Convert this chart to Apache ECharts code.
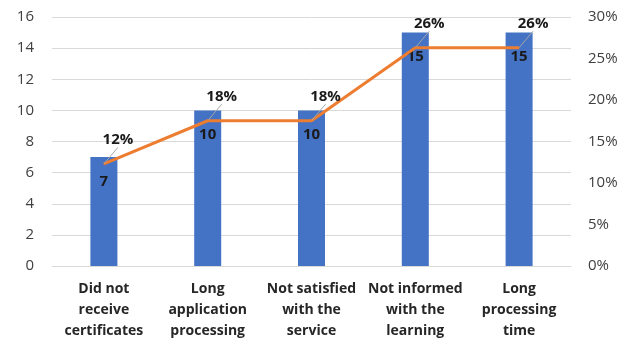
<!DOCTYPE html>
<html><head><meta charset="utf-8">
<script src="https://cdn.jsdelivr.net/npm/echarts@6/dist/echarts.min.js"></script>
<style>html,body{margin:0;padding:0;background:#fff}#c{width:635px;height:345px}</style>
</head><body><div id="c"></div>
<script>
const categories = ["Did not\nreceive\ncertificates","Long\napplication\nprocessing","Not satisfied\nwith the\nservice","Not informed\nwith the\nlearning","Long\nprocessing\ntime"];
const counts = [7, 10, 10, 15, 15];
const percents = [12.3, 17.5, 17.5, 26.3, 26.3];
const percentLabels = ["12%","18%","18%","26%","26%"];

const FONT = "Open Sans";
const chart = echarts.init(document.getElementById('c'));
chart.setOption({
  animation: false,
  grid: {left: 52, right: 64, top: 17, bottom: 79},
  xAxis: {
    type: 'category', data: categories,
    axisLine: {lineStyle: {color: '#d9d9d9'}}, axisTick: {show: false},
    axisLabel: {interval: 0, color: '#262626', fontFamily: FONT, fontSize: 14, fontWeight: 'bold', lineHeight: 21, margin: 13}
  },
  yAxis: [{
    type: 'value', min: 0, max: 16, interval: 2,
    axisLabel: {color: '#404040', fontFamily: FONT, fontSize: 15, margin: 18},
    splitLine: {lineStyle: {color: '#d9d9d9'}}
  },{
    type: 'value', min: 0, max: 30, interval: 5,
    axisLabel: {color: '#404040', fontFamily: FONT, fontSize: 15, margin: 17, formatter: '{value}%'},
    splitLine: {show: false}
  }],
  series: [{
    type: 'bar', data: counts, barWidth: 27, itemStyle: {color: '#4472C4'},
    label: {show: true, position: 'insideTop', distance: 17, color: '#1a1a1a', fontFamily: FONT, fontSize: 15, fontWeight: 'bold'}
  },{
    type: 'line', yAxisIndex: 1, data: percents, symbol: 'circle', symbolSize: 1, showSymbol: true,
    lineStyle: {color: '#ED7D31', width: 3}, itemStyle: {color: '#ED7D31'},
    label: {show: true, position: 'top', distance: 0, color: '#1a1a1a', fontFamily: FONT, fontSize: 15, fontWeight: 'bold',
      formatter: p => percentLabels[p.dataIndex]},
    labelLayout: {dx: 14, dy: -16},
    labelLine: {show: true, lineStyle: {color: '#a6a6a6', width: 1}}
  }]
});
</script></body></html>
